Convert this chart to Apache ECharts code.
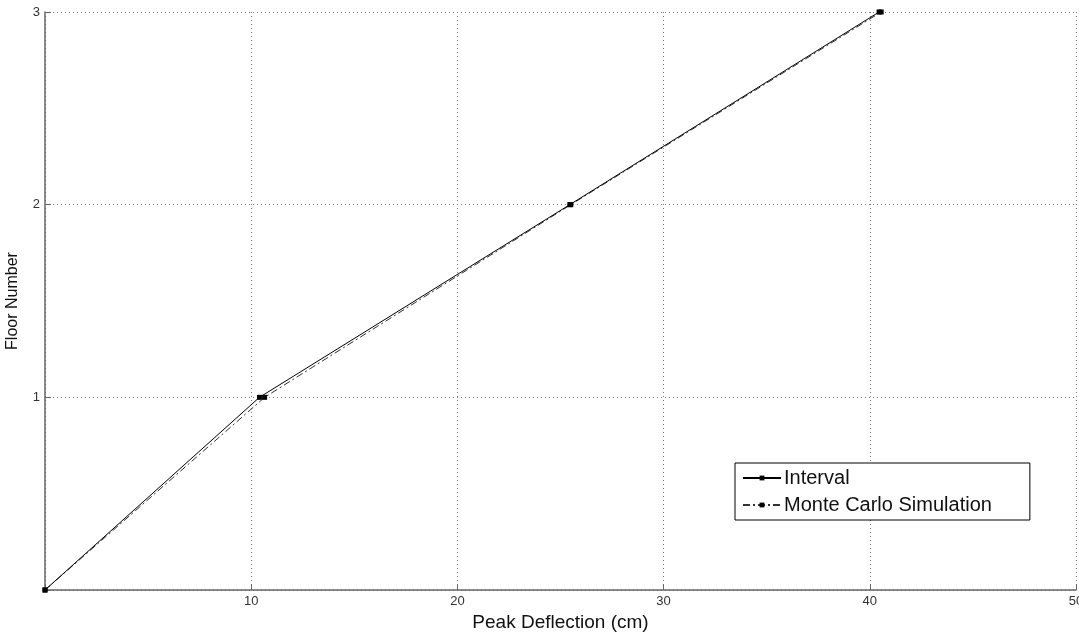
<!DOCTYPE html>
<html><head><meta charset="utf-8">
<script src="https://cdn.jsdelivr.net/npm/echarts@6/dist/echarts.min.js"></script>
<style>html,body{margin:0;padding:0;background:#fff;overflow:hidden}#c{width:1079px;height:633px}</style>
</head><body><div id="c"></div>
<script>
const seriesNames = ['Interval', 'Monte Carlo Simulation'];
const floors = [0, 1, 2, 3];
const intervalDefl = [0, 10.4, 25.45, 40.45];
const monteCarloDefl = [0, 10.65, 25.5, 40.55];
const xTicks = [0, 10, 20, 30, 40, 50];
const yTicks = [0, 1, 2, 3];

const font = 'Liberation Sans, Arial, sans-serif';
const chart = echarts.init(document.getElementById('c'));
chart.setOption({
  animation: false,
  backgroundColor: '#fff',
  grid: { left: 45, right: 3, top: 12, bottom: 43, containLabel: false, outerBoundsMode: 'none' },
  xAxis: {
    type: 'value', min: xTicks[0], max: xTicks[xTicks.length - 1], interval: 10,
    name: 'Peak Deflection (cm)', nameLocation: 'middle', nameGap: 20,
    nameTextStyle: { fontFamily: font, fontSize: 19, color: '#111' },
    axisLine: { show: true, lineStyle: { color: '#666', width: 1.5 } },
    axisTick: { show: true, inside: true, length: 6, lineStyle: { color: '#666' } },
    axisLabel: { fontFamily: font, fontSize: 13, color: '#333', margin: 5,
      formatter: v => v === 0 ? '' : String(v) },
    splitLine: { show: true, lineStyle: { color: '#777', type: [1, 3], width: 1 } }
  },
  yAxis: {
    type: 'value', min: yTicks[0], max: yTicks[yTicks.length - 1], interval: 1,
    name: 'Floor Number', nameLocation: 'middle', nameGap: 24,
    nameTextStyle: { fontFamily: font, fontSize: 16, color: '#111' },
    axisLine: { show: true, lineStyle: { color: '#666', width: 1.5 } },
    axisTick: { show: true, inside: true, length: 6, lineStyle: { color: '#666' } },
    axisLabel: { fontFamily: font, fontSize: 13, color: '#333', margin: 5,
      formatter: v => v === 0 ? '' : String(v) },
    splitLine: { show: true, lineStyle: { color: '#777', type: [1, 3], width: 1 } }
  },
  legend: {
    orient: 'vertical', left: 735, top: 463,
    backgroundColor: '#fff', borderColor: '#000', borderWidth: 1, borderRadius: 0,
    padding: [5, 38, 5, 7], itemWidth: 38, itemHeight: 6, itemGap: 7,
    textStyle: { fontFamily: font, fontSize: 20, color: '#111', padding: [0, 0, 0, -2] },
    data: seriesNames
  },
  series: [
    { name: seriesNames[0], type: 'line', data: floors.map((f, i) => [intervalDefl[i], f]),
      symbol: 'rect', symbolSize: 5, showAllSymbol: true,
      lineStyle: { color: '#000', width: 1, type: 'solid' },
      itemStyle: { color: '#000' }, z: 3 },
    { name: seriesNames[1], type: 'line', data: floors.map((f, i) => [monteCarloDefl[i], f]),
      symbol: 'rect', symbolSize: 5, showAllSymbol: true,
      lineStyle: { color: '#333', width: 1, type: [7, 3, 2, 3] },
      itemStyle: { color: '#000' }, z: 2 }
  ]
});
</script></body></html>
